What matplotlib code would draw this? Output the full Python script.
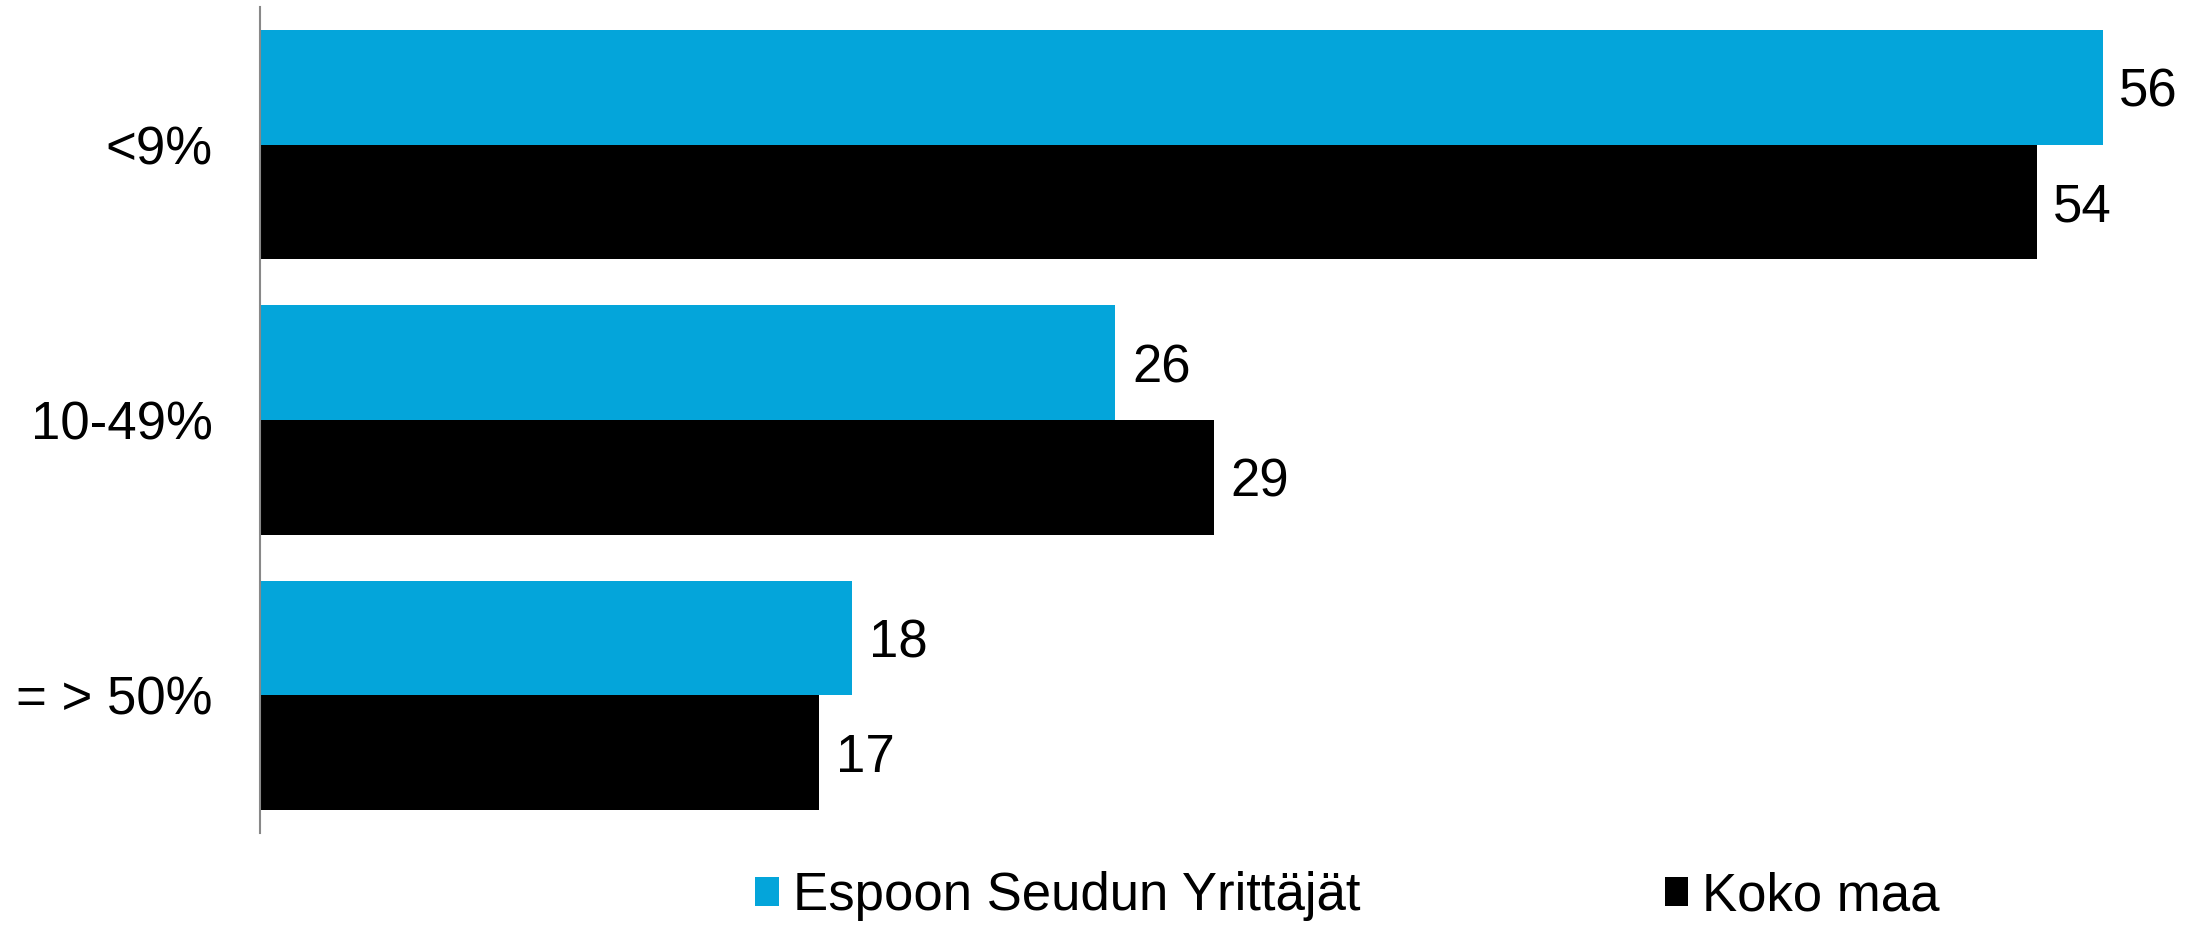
import matplotlib
matplotlib.use('Agg')
import matplotlib.pyplot as plt
import numpy as np

plt.rcParams['font.family'] = ['Liberation Sans', 'DejaVu Sans']

categories = ['<9%', '10-49%', '= > 50%']
espoo = [56, 26, 18]
koko_maa = [54, 29, 17]
series_names = ['Espoon Seudun Yrittäjät', 'Koko maa']
colors = ['#04A5DA', '#000000']

fig = plt.figure(figsize=(21.93, 9.26), dpi=100)
ax = fig.add_axes([260 / 2193, 1 - 833 / 926, 1 - 260 / 2193, 826 / 926])

y = np.arange(len(categories))
h = 0.417
b1 = ax.barh(y - h / 2, espoo, height=h, color=colors[0], label=series_names[0])
b2 = ax.barh(y + h / 2, koko_maa, height=h, color=colors[1], label=series_names[1])

# value labels to the right of each bar
for bars, vals in [(b1, espoo), (b2, koko_maa)]:
    for bar, v in zip(bars, vals):
        ax.annotate(str(v), (bar.get_width(), bar.get_y() + bar.get_height() / 2),
                    xytext=(12, -4), textcoords='offset points',
                    ha='left', va='center', fontsize=38, clip_on=False)

ax.set_xlim(0, 58.75)
ax.set_ylim(2.5, -0.5)
ax.set_yticks(y)
ax.set_yticklabels(categories, fontsize=38)
ax.tick_params(axis='y', length=0, pad=34)
ax.set_xticks([])
for s in ['top', 'right', 'bottom']:
    ax.spines[s].set_visible(False)
ax.spines['left'].set_color('#888888')
ax.spines['left'].set_linewidth(1.5)

fig.legend(handles=[b1, b2], labels=series_names, loc='center left',
           bbox_to_anchor=(755 / 2193, 0.032), ncol=2, frameon=False,
           fontsize=38, handlelength=0.45, handleheight=0.45,
           handletextpad=0.27, columnspacing=5.76, borderpad=0, borderaxespad=0)

fig.savefig('out.png', dpi=100)
